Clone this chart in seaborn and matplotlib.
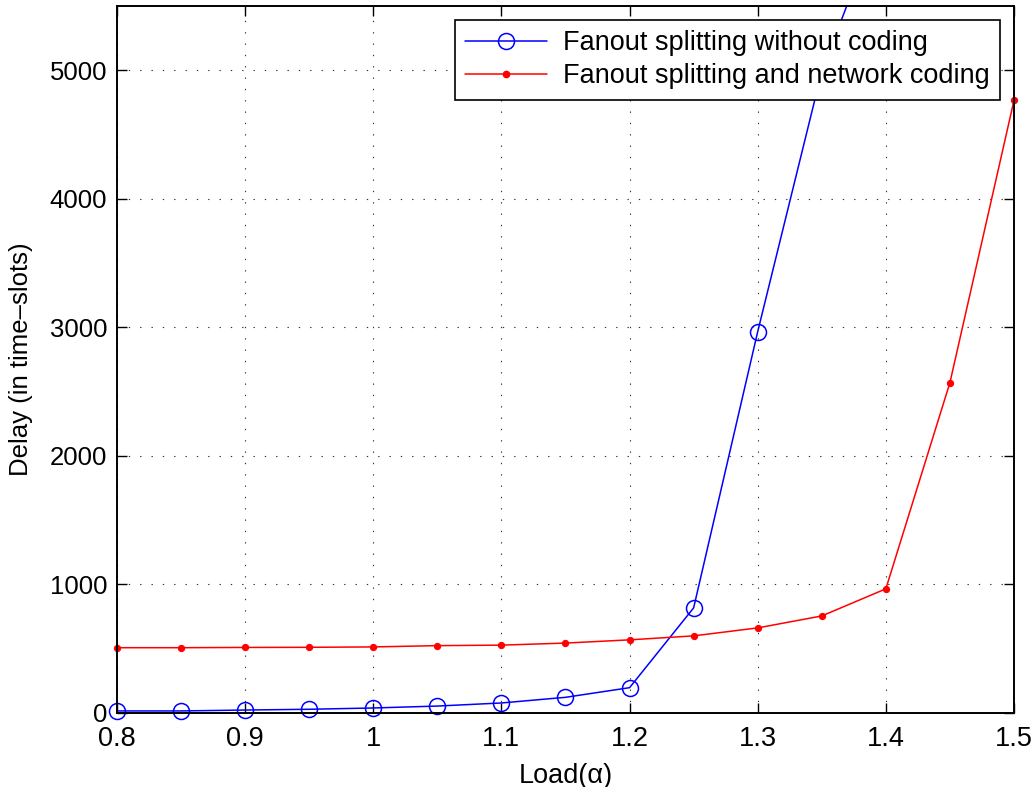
import numpy as np
import pandas as pd
import matplotlib
matplotlib.use("Agg")
import matplotlib.pyplot as plt
import seaborn as sns
from matplotlib.lines import Line2D

# ---- data ----
load = [0.8, 0.85, 0.9, 0.95, 1.0, 1.05, 1.1, 1.15, 1.2, 1.25, 1.3, 1.35, 1.4, 1.45, 1.5]
delay_no_coding = [16, 16, 23, 29, 39, 54, 78, 122, 197, 818, 2967, 4990, 6300]
delay_coding = [508, 508, 510, 511, 514, 524, 528, 544, 569, 600, 662, 755, 966, 2570, 4766]
label_no_coding = "Fanout splitting without coding"
label_coding = "Fanout splitting and network coding"
x_ticks = [0.8, 0.9, 1.0, 1.1, 1.2, 1.3, 1.4, 1.5]
x_tick_labels = ["0.8", "0.9", "1", "1.1", "1.2", "1.3", "1.4", "1.5"]
y_ticks = [0, 1000, 2000, 3000, 4000, 5000]
x_label = "Load(\u03b1)"
y_label = "Delay (in time\u2013slots)"

sns.set_style("white")
plt.rcParams["font.family"] = ["Liberation Sans", "DejaVu Sans"]
plt.rcParams["text.color"] = "black"
plt.rcParams["axes.labelcolor"] = "black"

df_nc = pd.DataFrame({"load": load[:len(delay_no_coding)], "delay": delay_no_coding})
df_c = pd.DataFrame({"load": load, "delay": delay_coding})
ymax = 5500

fig = plt.figure(figsize=(10.34, 7.87), dpi=100)
ax = fig.add_axes([117 / 1034, 1 - 713 / 787, (1014 - 117) / 1034, (713 - 6) / 787])

# blue: line (clipped) + markers (unclipped, only those in range)
sns.lineplot(data=df_nc, x="load", y="delay", ax=ax, color="#0000ff", linewidth=1.1,
             estimator=None, sort=False, legend=False)
sns.lineplot(data=df_nc[df_nc["delay"] <= ymax], x="load", y="delay", ax=ax,
             linestyle="none", marker="o", markersize=11.5, markerfacecolor="none",
             markeredgecolor="#0000ff", markeredgewidth=1.1, estimator=None, sort=False,
             legend=False, clip_on=False)
# red
sns.lineplot(data=df_c, x="load", y="delay", ax=ax, color="#ff0000", linewidth=1.1,
             marker="o", markersize=4.5, markerfacecolor="#ff0000", markeredgecolor="#ff0000",
             estimator=None, sort=False, legend=False, clip_on=False)

ax.set_xlim(0.8, 1.5)
ax.set_ylim(0, ymax)
ax.set_xticks(x_ticks)
ax.set_xticklabels(x_tick_labels)
ax.set_yticks(y_ticks)
ax.tick_params(axis="x", labelsize=19.5, direction="in", length=7, width=1.0,
               top=True, bottom=True, pad=9, colors="black")
ax.tick_params(axis="y", labelsize=18.5, direction="in", length=7, width=1.0,
               left=True, right=True, pad=7, colors="black")
for s in ax.spines.values():
    s.set_visible(True)
    s.set_color("black")
    s.set_linewidth(1.4)

ax.grid(True, color="#333333", linestyle=(0, (1.2, 9)), linewidth=0.8)
ax.set_axisbelow(True)

ax.set_xlabel(x_label, fontsize=19.5, labelpad=8, color="black")
ax.set_ylabel(y_label, fontsize=18.5, labelpad=12, color="black")

handles = [
    Line2D([], [], color="#0000ff", linewidth=1.1, marker="o", markersize=11.5,
           markerfacecolor="none", markeredgecolor="#0000ff", markeredgewidth=1.1),
    Line2D([], [], color="#ff0000", linewidth=1.1, marker="o", markersize=4.5,
           markerfacecolor="#ff0000", markeredgecolor="#ff0000"),
]
leg = ax.legend(handles, [label_no_coding, label_coding], loc="upper right",
                fontsize=19.5, frameon=True, fancybox=False, framealpha=1,
                edgecolor="black", handlelength=3.0, handletextpad=0.6,
                labelspacing=0.25, borderpad=0.4, borderaxespad=0.5,
                labelcolor="black")
leg.get_frame().set_linewidth(1.2)

fig.savefig("out.png", dpi=100, facecolor="white")
